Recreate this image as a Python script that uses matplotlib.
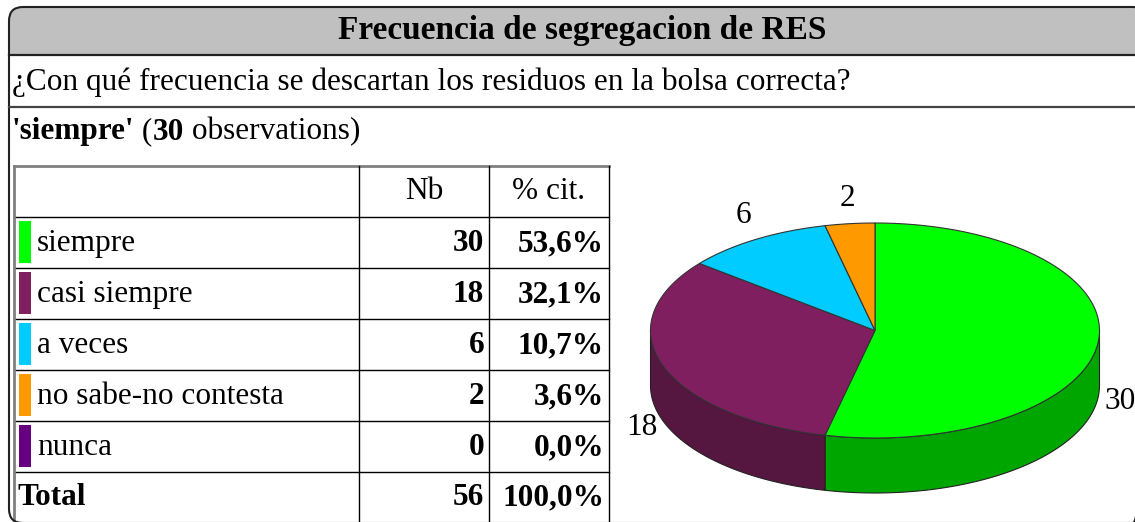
import matplotlib
matplotlib.use("Agg")
import matplotlib.pyplot as plt
from matplotlib.patches import FancyBboxPatch, Rectangle, Polygon
import numpy as np

plt.rcParams['font.family'] = ['Liberation Serif', 'DejaVu Serif']

# data
title = 'Frecuencia de segregacion de RES'
question = '¿Con qué frecuencia se descartan los residuos en la bolsa correcta?'
categories = ['siempre', 'casi siempre', 'a veces', 'no sabe-no contesta', 'nunca']
counts = [30, 18, 6, 2, 0]
pcts = ['53,6%', '32,1%', '10,7%', '3,6%', '0,0%']
colors = ['#00ff00', '#7f1f5f', '#00ccff', '#ff9900', '#660080']
side_colors = ['#00a600', '#55163f', '#0088aa', '#aa6600', '#440055']

W, H = 1135, 522
fig = plt.figure(figsize=(W / 100, H / 100), dpi=100)
ax = fig.add_axes([0, 0, 1, 1])
ax.set_xlim(0, W)
ax.set_ylim(H, 0)
ax.axis('off')

FS = 22.5

# frame + header (right side runs just past the canvas edge)
fw = 1138
ax.add_patch(FancyBboxPatch((9, 7), fw, 80, boxstyle='round,pad=0,rounding_size=14',
                            fc='#c0c0c0', ec='none', zorder=1))
ax.add_patch(Rectangle((9, 55), fw + 5, 60, fc='white', ec='none', zorder=2))
ax.add_patch(FancyBboxPatch((9, 7), fw, 516, boxstyle='round,pad=0,rounding_size=14',
                            fc='none', ec='#222222', lw=1.5, zorder=5))
ax.plot([9, W], [55, 55], color='#222222', lw=1.6, zorder=5)
ax.plot([9, W], [107, 107], color='#444444', lw=1.6, zorder=5)

ax.text(582, 31, title, fontsize=24, fontweight='bold', ha='center', va='center', zorder=6)
ax.text(12, 82, question, fontsize=22.5, ha='left', va='center', zorder=6)

# subtitle in pieces
t1 = ax.text(12, 132, "'siempre'", fontsize=FS, fontweight='bold', ha='left', va='center', zorder=6)
t2 = ax.annotate(' (', xy=(1, 0), xycoords=t1, fontsize=FS, va='bottom', ha='left')
t3 = ax.annotate('30', xy=(1, 0), xycoords=t2, fontsize=FS, fontweight='bold', va='bottom', ha='left')
ax.annotate(' observations)', xy=(1, 0), xycoords=t3, fontsize=FS, va='bottom', ha='left')

# table
xs = [14, 359, 489, 609]
row_h = 51
top = 166
n_rows = len(categories) + 2
ys = [top + i * row_h for i in range(n_rows)]
for y in ys[1:]:
    ax.plot([xs[0], xs[-1]], [y, y], color='black', lw=1.0, zorder=4)
ax.plot([xs[0], xs[-1]], [top, top], color='#808080', lw=2, zorder=4)
for i, x in enumerate(xs):
    ax.plot([x, x], [top, H], color='#808080' if i == 0 else 'black',
            lw=2 if i == 0 else 1.0, zorder=4)

hy = top + row_h / 2
ax.text((xs[1] + xs[2]) / 2, hy, 'Nb', fontsize=FS, ha='center', va='center')
ax.text((xs[2] + xs[3]) / 2, hy, '% cit.', fontsize=FS, ha='center', va='center')

for i, (cat, n, p, c) in enumerate(zip(categories, counts, pcts, colors)):
    y0 = ys[i + 1]
    yc = y0 + row_h / 2 + 1
    ax.add_patch(Rectangle((19, y0 + 4), 12, row_h - 9, fc=c, ec='none', zorder=4))
    ax.text(37, yc, cat, fontsize=FS, ha='left', va='center')
    ax.text(xs[2] - 5, yc, str(n), fontsize=FS, fontweight='bold', ha='right', va='center')
    ax.text(xs[3] - 5, yc, p, fontsize=FS, fontweight='bold', ha='right', va='center')

total = sum(counts)
yc = ys[-1] + row_h / 2
ax.text(18, yc, 'Total', fontsize=FS, fontweight='bold', ha='left', va='center')
ax.text(xs[2] - 5, yc, str(total), fontsize=FS, fontweight='bold', ha='right', va='center')
ax.text(xs[3] - 5, yc, '100,0%', fontsize=FS, fontweight='bold', ha='right', va='center')

# 3D pie
cx, cy, a, b, depth = 875, 330.5, 224.5, 107.5, 55
fracs = np.array(counts) / total
ends = 90 - np.cumsum(fracs) * 360
starts = np.concatenate([[90], ends[:-1]])


def pt(t, dy=0):
    r = np.radians(t)
    return cx + a * np.cos(r), cy - b * np.sin(r) + dy


# sides (lower half only)
for s, e, sc in zip(starts, ends, side_colors):
    lo, hi = e, s
    for shift in (0, 360):
        l2, h2 = max(lo + shift, -180), min(hi + shift, 0)
        if h2 > l2:
            ts = np.linspace(h2, l2, 80)
            topp = [pt(t) for t in ts]
            botp = [pt(t, depth) for t in ts[::-1]]
            ax.add_patch(Polygon(topp + botp, closed=True, fc=sc, ec='#222222',
                                 lw=0.8, zorder=7))

# tops
for s, e, c in zip(starts, ends, colors):
    if s - e <= 0:
        continue
    ts = np.linspace(s, e, 120)
    poly = [(cx, cy)] + [pt(t) for t in ts]
    ax.add_patch(Polygon(poly, closed=True, fc=c, ec='#333333', lw=0.8, zorder=8))

# labels
for s, e, n in zip(starts, ends, counts):
    if n == 0:
        continue
    m = np.radians((s + e) / 2)
    lx = cx + 1.1 * a * np.cos(m)
    ly = cy - 1.1 * b * np.sin(m)
    if np.sin(m) < 0:
        ax.text(lx, ly + depth + 3, str(n), fontsize=FS, ha='center', va='center', zorder=9)
    else:
        ax.text(lx, ly, str(n), fontsize=FS, ha='center', va='bottom', zorder=9)

fig.savefig('out.png', dpi=100)
